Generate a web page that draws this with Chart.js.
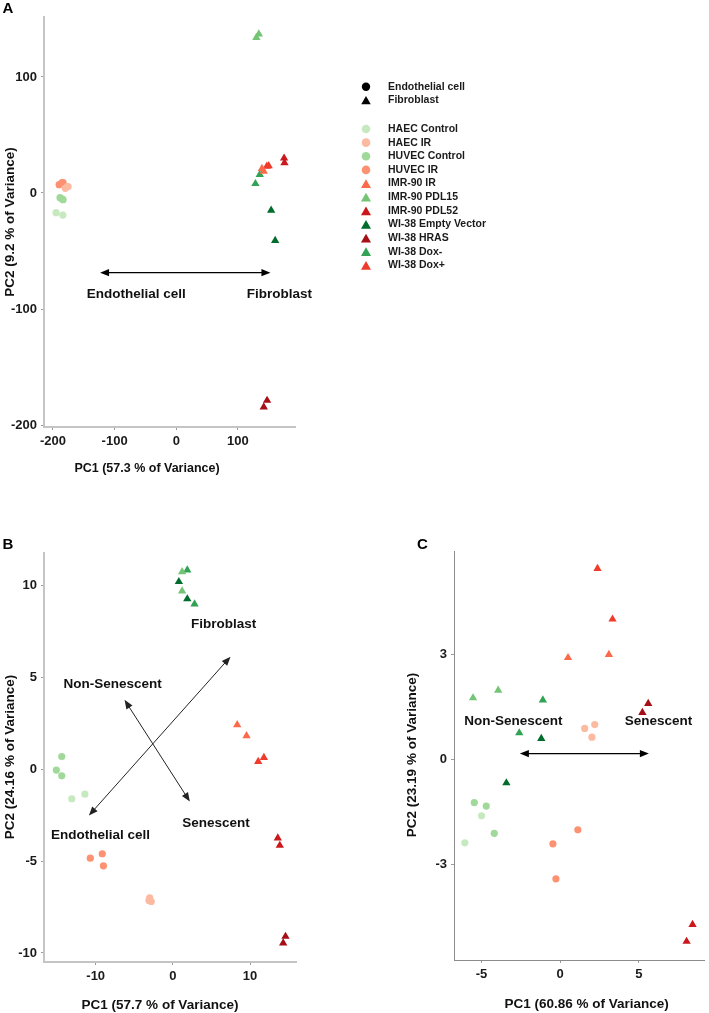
<!DOCTYPE html>
<html>
<head>
<meta charset="utf-8">
<script src="https://cdn.jsdelivr.net/npm/chart.js@4.4.1/dist/chart.umd.min.js"></script>
<style>
  html, body { margin: 0; padding: 0; background: #fff; }
  body { width: 709px; height: 1013px; position: relative; overflow: hidden; }
  canvas { position: absolute; }
</style>
</head>
<body>
<canvas id="chartA" width="709" height="490" style="left:0;top:0"></canvas>
<canvas id="chartB" width="355" height="513" style="left:0;top:500px"></canvas>
<canvas id="chartC" width="354" height="513" style="left:355px;top:500px"></canvas>
<script>
// Sample groups (legend order) with their colours and shapes
var GROUPS = ['HAEC Control', 'HAEC IR', 'HUVEC Control', 'HUVEC IR', 'IMR-90 IR', 'IMR-90 PDL15',
  'IMR-90 PDL52', 'WI-38 Empty Vector', 'WI-38 HRAS', 'WI-38 Dox-', 'WI-38 Dox+'];
var GROUP_COLORS = ['#c7e9c0', '#fcbba1', '#a1d99b', '#fc9272', '#fb6a4a', '#74c476',
  '#cb181d', '#006d2c', '#a50f15', '#31a354', '#ef3b2c'];
var GROUP_SHAPES = ['circle', 'circle', 'circle', 'circle', 'triangle', 'triangle',
  'triangle', 'triangle', 'triangle', 'triangle', 'triangle'];
var CELL_TYPES = ['Endothelial cell', 'Fibroblast'];
var CELL_SHAPES = ['circle', 'triangle'];

// Panel A: all samples
var A_X = [-195, -184, -177, -175.5, -180, -188.6, -183.7, -185.5, -185.4, -183.7, -190,
  139, 142, 130, 134, 175, 175.6, 154, 160.5, 147.4, 142, 135.5, 128.5, 147, 150];
var A_Y = [-17, -19, 5.4, 5.6, 4, -4, -5.8, -5, 8.9, 8.9, 7.2,
  21, 18.6, 134, 137, 30, 26, -15, -41, -178.8, -184.5, 15.8, 8, 23, 23.5];
var A_G = [0, 0, 1, 1, 1, 2, 2, 2, 3, 3, 3, 4, 4, 5, 5, 6, 6, 7, 7, 8, 8, 9, 9, 10, 10];
var A_XTICKS = [-200, -100, 0, 100];
var A_YTICKS = [-200, -100, 0, 100];
var A_ARROWS = [[-123.6, -68.7, 152.8, -68.7]];
var A_NOTES = [['Endothelial cell', -65, -87.7], ['Fibroblast', 167.5, -87.7]];

// Panel B
var B_X = [-13.1, -11.4, -3.0, -2.8, -3.1, -14.4, -15.1, -14.4, -10.7, -9.15, -9.0,
  8.34, 9.55, 1.2, 1.2, 13.6, 13.86, 0.78, 1.87, 14.6, 14.3, 1.87, 2.81, 11.06, 11.8];
var B_Y = [-1.61, -1.36, -7.0, -7.2, -7.14, 0.69, -0.05, -0.36, -4.84, -4.6, -5.26,
  2.41, 1.81, 10.74, 9.69, -3.75, -4.15, 10.2, 9.26, -9.1, -9.46, 10.83, 8.98, 0.41, 0.63];
var B_G = [0, 0, 1, 1, 1, 2, 2, 2, 3, 3, 3, 4, 4, 5, 5, 6, 6, 7, 7, 8, 8, 9, 9, 10, 10];
var B_XTICKS = [-10, 0, 10];
var B_YTICKS = [-10, -5, 0, 5, 10];
var B_ARROWS = [[-10.88, -2.52, 7.47, 6.12], [-6.26, 3.77, 2.2, -1.76]];
var B_NOTES = [['Fibroblast', 6.57, 7.9], ['Non-Senescent', -7.8, 4.62],
  ['Endothelial cell', -9.37, -3.62], ['Senescent', 5.6, -2.93]];

// Panel C
var C_X = [-5.0, -6.06, 1.56, 2.2, 2.02, -5.46, -4.7, -4.19, 1.125, -0.46, -0.27,
  3.1, 0.5, -5.54, -3.94, 8.42, 8.04, -1.2, -3.42, 5.6, 5.23, -1.1, -2.6, 2.375, 3.33];
var C_Y = [-1.62, -2.39, 0.88, 0.99, 0.63, -1.24, -1.34, -2.12, -2.02, -2.42, -3.42,
  2.99, 2.9, 1.75, 1.97, -4.73, -5.21, 0.59, -0.68, 1.59, 1.33, 1.69, 0.75, 5.45, 4.0];
var C_G = [0, 0, 1, 1, 1, 2, 2, 2, 3, 3, 3, 4, 4, 5, 5, 6, 6, 7, 7, 8, 8, 9, 9, 10, 10];
var C_XTICKS = [-5, 0, 5];
var C_YTICKS = [-3, 0, 3];
var C_ARROWS = [[-2.56, 0.16, 5.64, 0.16]];
var C_NOTES = [['Non-Senescent', -2.97, 1.07], ['Senescent', 6.25, 1.09]];

var FONT = '"Liberation Sans", Arial, Helvetica, sans-serif';

// one dataset per group
function buildDatasets(xs, ys, gs) {
  return GROUPS.map(function(name, g) {
    var pts = [];
    gs.forEach(function(gi, i) { if (gi === g) pts.push({ x: xs[i], y: ys[i] }); });
    var tri = GROUP_SHAPES[g] === 'triangle';
    return {
      label: name,
      data: pts,
      pointStyle: GROUP_SHAPES[g],
      pointRadius: tri ? 4.8 : 3.6,
      pointHoverRadius: tri ? 4.8 : 3.6,
      backgroundColor: GROUP_COLORS[g],
      borderColor: GROUP_COLORS[g],
      borderWidth: 0
    };
  });
}

function axis(min, max, ticks, lineColor, lineWidth, size, fitFn) {
  return {
    type: 'linear',
    min: min,
    max: max,
    afterBuildTicks: function(s) { s.ticks = ticks.map(function(v) { return { value: v }; }); },
    afterFit: fitFn,
    grid: { drawOnChartArea: false, drawTicks: true, tickLength: 3, color: '#9a9a9a', lineWidth: 1 },
    border: { display: true, color: lineColor, width: lineWidth },
    ticks: {
      color: '#1a1a1a',
      padding: 4,
      font: { family: FONT, size: size, weight: 'bold' },
      callback: function(v) { return String(v); }
    }
  };
}

function shape(ctx, kind, x, y, r) {
  ctx.beginPath();
  if (kind === 'circle') {
    ctx.arc(x, y, r, 0, Math.PI * 2);
  } else {
    ctx.moveTo(x, y - r);
    ctx.lineTo(x + r * 0.866, y + r * 0.5);
    ctx.lineTo(x - r * 0.866, y + r * 0.5);
    ctx.closePath();
  }
  ctx.fill();
}

function arrowHead(ctx, x1, y1, x2, y2, len, half) {
  var a = Math.atan2(y2 - y1, x2 - x1);
  ctx.beginPath();
  ctx.moveTo(x2, y2);
  ctx.lineTo(x2 - len * Math.cos(a) + half * Math.sin(a), y2 - len * Math.sin(a) - half * Math.cos(a));
  ctx.lineTo(x2 - len * Math.cos(a) - half * Math.sin(a), y2 - len * Math.sin(a) + half * Math.cos(a));
  ctx.closePath();
  ctx.fill();
}

// arrows, annotation text, axis titles and the panel letter
var annotate = {
  id: 'annotate',
  afterDatasetsDraw: function(chart, args, o) {
    var ctx = chart.ctx, sx = chart.scales.x, sy = chart.scales.y;
    ctx.save();
    ctx.strokeStyle = o.arrowColor;
    ctx.fillStyle = o.arrowColor;
    ctx.lineWidth = o.arrowWidth;
    o.arrows.forEach(function(a) {
      var x1 = sx.getPixelForValue(a[0]), y1 = sy.getPixelForValue(a[1]);
      var x2 = sx.getPixelForValue(a[2]), y2 = sy.getPixelForValue(a[3]);
      var d = Math.hypot(x2 - x1, y2 - y1), ux = (x2 - x1) / d, uy = (y2 - y1) / d;
      ctx.beginPath();
      ctx.moveTo(x1 + ux * 6, y1 + uy * 6);
      ctx.lineTo(x2 - ux * 6, y2 - uy * 6);
      ctx.stroke();
      arrowHead(ctx, x1, y1, x2, y2, 9, 3.6);
      arrowHead(ctx, x2, y2, x1, y1, 9, 3.6);
    });
    ctx.fillStyle = '#111';
    ctx.textAlign = 'center';
    ctx.textBaseline = 'middle';
    ctx.font = 'bold 13.5px ' + FONT;
    o.notes.forEach(function(n) {
      ctx.fillText(n[0], sx.getPixelForValue(n[1]), sy.getPixelForValue(n[2]));
    });
    ctx.font = 'bold ' + o.titleSize + 'px ' + FONT;
    ctx.fillText(o.xTitle[0], o.xTitle[1], o.xTitle[2]);
    ctx.font = 'bold 13.5px ' + FONT;
    ctx.save();
    ctx.translate(o.yTitle[1], o.yTitle[2]);
    ctx.rotate(-Math.PI / 2);
    ctx.fillText(o.yTitle[0], 0, 0);
    ctx.restore();
    ctx.font = 'bold 15px ' + FONT;
    ctx.fillStyle = '#000';
    ctx.fillText(o.letter[0], o.letter[1], o.letter[2]);
    ctx.restore();
  }
};

// shape + colour legend at the right of panel A
var sideLegend = {
  id: 'sideLegend',
  afterDraw: function(chart, args, o) {
    if (!o.show) return;
    var ctx = chart.ctx;
    ctx.save();
    ctx.font = 'bold 10.5px ' + FONT;
    ctx.textAlign = 'left';
    ctx.textBaseline = 'middle';
    CELL_TYPES.forEach(function(t, i) {
      var y = 86.7 + i * 13.4;
      ctx.fillStyle = '#000';
      shape(ctx, CELL_SHAPES[i], 366, CELL_SHAPES[i] === 'triangle' ? y + 1.5 : y, CELL_SHAPES[i] === 'triangle' ? 5.5 : 4.2);
      ctx.fillStyle = '#1a1a1a';
      ctx.fillText(t, 388, y);
    });
    GROUPS.forEach(function(name, g) {
      var y = 129 + g * 13.63;
      var tri = GROUP_SHAPES[g] === 'triangle';
      ctx.fillStyle = GROUP_COLORS[g];
      shape(ctx, GROUP_SHAPES[g], 366, tri ? y + 1.5 : y, tri ? 5.8 : 4.3);
      ctx.fillStyle = '#1a1a1a';
      ctx.fillText(name, 388, y);
    });
    ctx.restore();
  }
};

function makeChart(id, xs, ys, gs, cfg) {
  return new Chart(document.getElementById(id), {
    type: 'scatter',
    data: { datasets: buildDatasets(xs, ys, gs) },
    options: {
      responsive: false,
      animation: false,
      events: [],
      layout: { padding: cfg.padding },
      plugins: {
        legend: { display: false },
        tooltip: { enabled: false },
        annotate: cfg.annotate,
        sideLegend: { show: !!cfg.legend }
      },
      scales: {
        x: axis(cfg.xr[0], cfg.xr[1], cfg.xticks, cfg.lineColor, cfg.lineWidth, 13,
          function(s) { s.height = cfg.xh; }),
        y: axis(cfg.yr[0], cfg.yr[1], cfg.yticks, cfg.lineColor, cfg.lineWidth, 13,
          function(s) { s.width = cfg.yw; })
      }
    },
    plugins: [annotate, sideLegend]
  });
}

makeChart('chartA', A_X, A_Y, A_G, {
  padding: { left: 0, top: 17, right: 414, bottom: 0 },
  xr: [-214.6, 192.7], yr: [-201.7, 151.7],
  xticks: A_XTICKS, yticks: A_YTICKS,
  xh: 63, yw: 44,
  lineColor: '#c4c4c4', lineWidth: 2,
  legend: true,
  annotate: {
    arrows: A_ARROWS, notes: A_NOTES, arrowColor: '#000', arrowWidth: 1.3,
    titleSize: 12.5,
    xTitle: ['PC1 (57.3 % of Variance)', 147, 469],
    yTitle: ['PC2 (9.2 % of Variance)', 10, 222],
    letter: ['A', 8, 9]
  }
});

makeChart('chartB', B_X, B_Y, B_G, {
  padding: { left: 0, top: 53, right: 59, bottom: 0 },
  xr: [-16.7, 15.96], yr: [-10.49, 11.76],
  xticks: B_XTICKS, yticks: B_YTICKS,
  xh: 51, yw: 44,
  lineColor: '#c4c4c4', lineWidth: 2,
  annotate: {
    arrows: B_ARROWS, notes: B_NOTES, arrowColor: '#222', arrowWidth: 1,
    titleSize: 13.5,
    xTitle: ['PC1 (57.7 % of Variance)', 160, 505.7],
    yTitle: ['PC2 (24.16 % of Variance)', 10, 257],
    letter: ['B', 8, 45]
  }
});

makeChart('chartC', C_X, C_Y, C_G, {
  padding: { left: 0, top: 51, right: 1, bottom: 0 },
  xr: [-6.75, 9.16], yr: [-5.74, 5.95],
  xticks: C_XTICKS, yticks: C_YTICKS,
  xh: 53, yw: 99,
  lineColor: '#8c8c8c', lineWidth: 1,
  annotate: {
    arrows: C_ARROWS, notes: C_NOTES, arrowColor: '#000', arrowWidth: 1.3,
    titleSize: 13.5,
    xTitle: ['PC1 (60.86 % of Variance)', 231.7, 504],
    yTitle: ['PC2 (23.19 % of Variance)', 57.5, 255],
    letter: ['C', 67.5, 45]
  }
});
</script>
</body>
</html>
